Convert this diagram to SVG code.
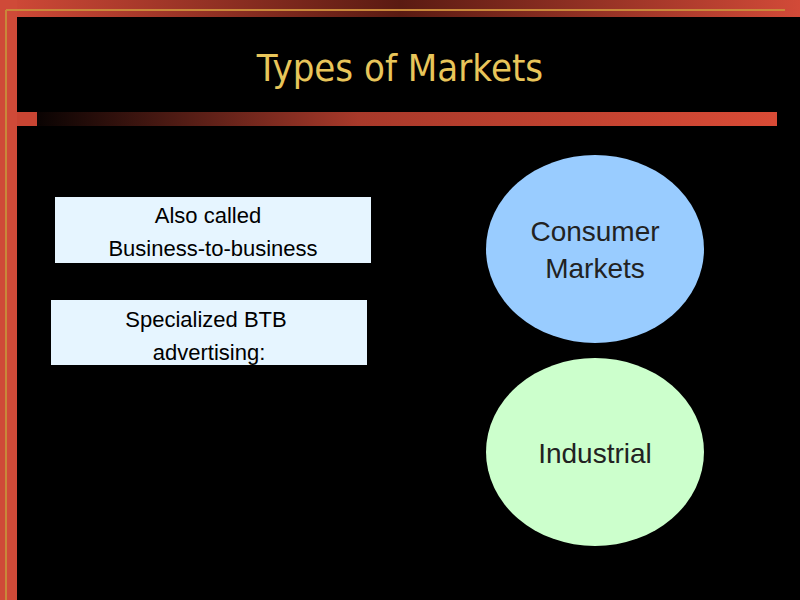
<svg xmlns="http://www.w3.org/2000/svg" width="800" height="600" viewBox="0 0 800 600">
<defs>
<linearGradient id="top" x1="0" x2="1" y1="0" y2="0">
<stop offset="0" stop-color="#d24a38"/><stop offset="0.5" stop-color="#5a1a12"/><stop offset="1" stop-color="#d24a38"/>
</linearGradient>
<linearGradient id="bar" x1="0" x2="1" y1="0" y2="0">
<stop offset="0" stop-color="#000"/><stop offset="0.45" stop-color="#a8392a"/><stop offset="1" stop-color="#d94b36"/>
</linearGradient>
</defs>
<style>
.box{fill:#e6f5ff}
.t{font-family:"Liberation Sans",Arial,sans-serif;font-size:22px;fill:#000;text-anchor:middle}
.c{font-family:"Liberation Sans",Arial,sans-serif;font-size:28px;fill:#222;text-anchor:middle}
</style>
<rect width="800" height="600" fill="#000"/>
<rect x="0" y="0" width="800" height="17" fill="url(#top)"/>
<rect x="0" y="0" width="17" height="600" fill="#cf4a38"/>
<line x1="6" y1="10" x2="785" y2="10" stroke="#c9883a" stroke-width="2"/>
<line x1="6" y1="10" x2="6" y2="600" stroke="#c9883a" stroke-width="2"/>
<rect x="17" y="112" width="760" height="14" fill="url(#bar)"/>
<rect x="17" y="112" width="20" height="14" fill="#c94533"/>
<text x="400" y="81" font-family="DejaVu Sans, sans-serif" font-size="38" fill="#e8c55a" text-anchor="middle" transform="translate(400 0) scale(0.9 1) translate(-400 0)">Types of Markets</text>
<g id="box1"><rect class="box" x="55" y="197" width="316" height="66"/>
<text class="t" x="208" y="223">Also called</text><text class="t" x="213" y="256">Business-to-business</text></g>
<g id="box2"><rect class="box" x="51" y="300" width="316" height="65"/>
<text class="t" x="206" y="327">Specialized  BTB</text><text class="t" x="209" y="360">advertising:</text></g>
<g id="consumer"><ellipse cx="595" cy="249" rx="109" ry="94" fill="#99ccff"/>
<text class="c" x="595" y="241">Consumer</text><text class="c" x="595" y="278">Markets</text></g>
<g id="industrial"><ellipse cx="595" cy="452" rx="109" ry="94" fill="#ccffcc"/>
<text class="c" x="595" y="463">Industrial</text></g>
<g id="connectors"/>
</svg>
